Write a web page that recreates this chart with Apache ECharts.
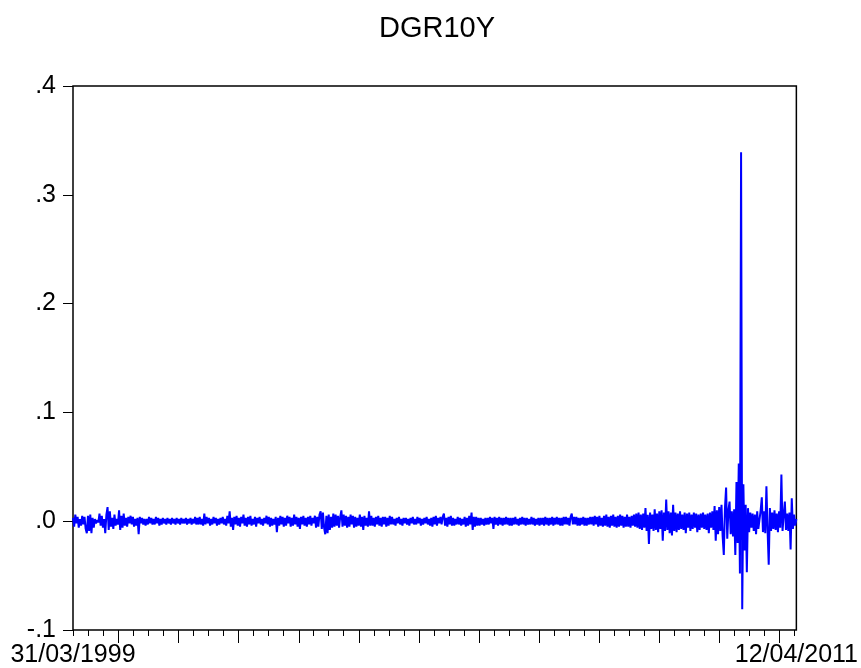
<!DOCTYPE html>
<html>
<head>
<meta charset="utf-8">
<script src="https://cdn.jsdelivr.net/npm/echarts@6/dist/echarts.min.js"></script>
<style>
  html, body { margin: 0; padding: 0; background: #ffffff; }
  #chart { width: 861px; height: 668px; }
</style>
</head>
<body>
<div id="chart"></div>
<script>
// Daily change of the 10-year yield, sampled roughly weekly.
const seriesName = 'DGR10Y';
const firstDate = '1999-03-31';
const lastDate = '2011-04-12';
const dateLabels = ['31/03/1999', '12/04/2011'];
const yTickValues = [-0.1, 0, 0.1, 0.2, 0.3, 0.4];
const dgr10y = [
  .003,-.005,.006,-.002,.004,-.006,.002,-.004,.005,-.003,
  .004,-.007,-.011,.005,-.009,.006,-.011,.003,-.006,.002,
  -.002,.001,-.001,.007,-.004,.005,-.006,.002,-.011,.006,
  .013,-.008,.009,-.005,.003,-.007,.006,-.004,.002,-.003,
  .010,-.008,.005,-.006,.007,-.004,.003,-.005,.004,-.002,
  .005,-.003,.004,-.005,.002,-.004,.003,-.012,.004,-.002,
  .003,-.003,.002,-.004,.002,-.003,.004,-.002,.003,-.003,
  .002,-.003,.004,-.002,.003,-.004,.002,-.003,.003,-.002,
  .002,-.003,.003,-.002,.002,-.003,.003,-.002,.002,-.003,
  .003,-.002,.002,-.003,.003,-.002,.002,-.002,.003,-.003,
  .002,-.002,.003,-.003,.002,-.002,.004,-.003,.003,-.003,
  .004,-.003,.002,-.004,.007,-.003,.004,-.002,.003,-.004,
  .002,-.003,.004,-.002,.003,-.004,.002,-.003,.003,-.002,
  .004,-.003,.002,-.004,.005,-.002,.009,-.005,.003,-.008,
  .004,-.003,.005,-.004,.003,-.005,.004,-.002,.006,-.004,
  .003,-.005,.004,-.003,.005,-.004,.002,-.003,.004,-.005,
  .003,-.002,.004,-.003,.002,-.004,.003,-.002,.005,-.003,
  .004,-.005,.003,-.004,.002,-.003,.004,-.010,.003,-.004,
  .005,-.003,.004,-.005,.003,-.004,.005,-.002,.004,-.005,
  .003,-.004,.006,-.003,.004,-.005,.003,-.007,.004,-.003,
  .005,-.004,.003,-.005,.004,-.003,.005,-.004,.003,-.002,
  .005,-.006,.004,-.005,.006,.009,-.007,.008,-.006,-.012,
  .005,-.011,.006,-.008,.004,-.006,.007,-.005,.006,-.004,
  .005,-.006,.004,.010,-.005,.006,-.004,.005,-.006,.004,
  -.005,.006,-.003,.005,-.006,.004,-.005,.003,-.004,.006,
  -.005,.004,-.008,.005,-.004,.003,-.005,.009,-.004,.005,
  -.004,.003,-.005,.004,-.003,.005,-.004,.003,-.005,.004,
  -.003,.004,-.005,.003,-.004,.005,-.003,.004,-.003,.002,
  -.004,.003,-.002,.004,-.003,.002,-.004,.003,-.002,.003,
  -.003,.002,-.004,.003,-.002,.004,-.003,.002,-.003,.004,
  -.002,.003,-.004,.002,-.003,.003,-.002,.004,-.003,.002,
  -.004,.003,-.005,.004,-.003,.005,-.004,.003,-.002,.004,
  -.003,.004,.007,-.004,.003,-.005,.004,-.003,.005,-.004,
  .003,-.004,.002,-.003,.004,-.003,.003,-.004,.002,-.003,
  .004,-.005,.003,-.004,.005,-.003,.008,-.008,.004,-.005,
  .004,-.004,.003,-.004,.003,-.003,.002,-.004,.003,-.003,
  .003,-.003,.004,-.002,.003,-.007,.004,-.003,.003,-.004,
  .004,-.003,.003,-.004,.003,-.003,.004,-.003,.003,-.004,
  .003,-.004,.003,-.003,.004,-.003,.002,-.004,.003,-.003,
  .004,-.003,.003,-.004,.003,-.003,.002,-.003,.004,-.003,
  .003,-.004,.002,-.003,.003,-.004,.003,-.003,.003,-.004,
  .004,-.003,.003,-.004,.003,-.003,.004,-.004,.003,-.003,
  .004,-.003,.003,-.004,.003,-.004,.004,-.003,.004,-.003,
  .003,-.004,.004,.007,-.003,.004,-.003,.004,-.004,.003,
  -.004,.003,-.003,.004,-.004,.003,-.004,.003,-.003,.004,
  -.003,.004,-.004,.005,-.003,.004,-.005,.005,-.004,.003,
  -.005,.005,-.004,.006,-.005,.004,-.006,.005,-.004,.006,
  -.005,.004,-.006,.005,-.005,.006,-.004,.005,-.006,.004,
  -.005,.006,-.005,.004,-.006,.005,-.004,.006,-.005,.007,
  -.006,.008,-.007,.006,-.008,.007,-.006,.012,-.009,.006,
  -.021,.008,-.007,.006,-.009,.011,-.008,.007,-.010,.009,
  -.007,.010,-.018,.008,-.009,.020,-.008,.009,-.011,.008,
  -.013,.015,-.009,.008,-.010,.007,-.008,.009,-.007,.006,
  -.008,.008,-.011,.007,-.006,.008,-.009,.006,-.007,.008,
  -.006,.007,-.010,.006,-.008,.007,-.006,.008,-.007,.006,
  -.008,.007,-.011,.008,-.006,.009,-.008,.014,-.018,.010,
  -.012,.013,-.009,.015,-.014,-.031,.012,.031,-.016,.010,
  .018,-.012,.009,-.014,.011,-.031,.036,-.020,.053,-.048,
  .339,-.081,.034,-.027,.015,-.047,.012,-.010,.008,-.006,
  .007,-.009,.006,-.012,.009,-.007,-.008,.010,.022,-.010,
  .009,-.011,.032,-.008,-.040,.012,-.009,.008,-.007,.010,
  -.008,.007,-.010,.009,-.006,.043,-.009,.006,.018,-.008,
  .007,-.009,.008,-.026,.021,-.007,.006,-.004,.002
];

const FONT = '"Liberation Sans", Arial, sans-serif';
const t0 = Date.parse(firstDate + 'T00:00:00Z');
const t1 = Date.parse(lastDate + 'T00:00:00Z');
const step = (t1 - t0) / (dgr10y.length - 1);
const points = dgr10y.map((v, i) => [t0 + i * step, v]);

// Quarter starts (minor ticks) and year starts (major ticks) along the date axis.
const quarterTicks = [];
const yearTicks = [];
for (let y = 1999; y <= 2011; y++) {
  for (let m = 0; m < 12; m += 3) {
    const t = Date.UTC(y, m, 1);
    if (t >= t0 && t <= t1) {
      quarterTicks.push(t);
      if (m === 0) yearTicks.push(t);
    }
  }
}

function yLabel(v) {
  const s = (Math.round(v * 10) / 10).toFixed(1);
  return s.replace(/^(-?)0\./, '$1.');
}

function dateLabel(v) {
  return Math.abs(v - t0) < Math.abs(v - t1) ? dateLabels[0] : dateLabels[1];
}

const chart = echarts.init(document.getElementById('chart'), null, { renderer: 'canvas' });
chart.setOption({
  animation: false,
  backgroundColor: '#ffffff',
  graphic: [{
    type: 'text',
    x: 437,
    y: 14,
    style: {
      text: seriesName,
      align: 'center',
      verticalAlign: 'top',
      fontFamily: FONT,
      fontSize: 29,
      fill: '#000000'
    }
  }],
  grid: {
    left: 73, right: 61, top: 86, bottom: 38,
    show: true,
    borderColor: '#000000',
    borderWidth: 1.5,
    backgroundColor: 'transparent'
  },
  xAxis: [{
    type: 'value',
    min: t0, max: t1,
    scale: true,
    position: 'bottom',
    axisLine: { show: false, onZero: false },
    axisTick: { show: true, customValues: quarterTicks, length: 6, lineStyle: { color: '#000', width: 1 } },
    axisLabel: { show: true, customValues: quarterTicks, formatter: () => '' },
    splitLine: { show: false }
  }, {
    type: 'value',
    min: t0, max: t1,
    scale: true,
    position: 'bottom',
    axisLine: { show: false, onZero: false },
    axisTick: { show: true, customValues: yearTicks, length: 13, lineStyle: { color: '#000', width: 1 } },
    axisLabel: {
      show: true,
      customValues: [t0, t1],
      margin: 13,
      fontFamily: FONT,
      fontSize: 25,
      color: '#000',
      formatter: dateLabel
    },
    splitLine: { show: false }
  }],
  yAxis: {
    type: 'value',
    min: yTickValues[0],
    max: yTickValues[yTickValues.length - 1],
    interval: 0.1,
    axisLine: { show: false, onZero: false },
    axisTick: { show: true, length: 10, lineStyle: { color: '#000', width: 1 } },
    axisLabel: { margin: 17, fontFamily: FONT, fontSize: 25, color: '#000', formatter: yLabel },
    splitLine: { show: false }
  },
  series: [{
    name: seriesName,
    type: 'line',
    xAxisIndex: 0,
    data: points,
    showSymbol: false,
    symbol: 'none',
    lineStyle: { color: '#0000ff', width: 2 },
    clip: true
  }]
});
</script>
</body>
</html>
